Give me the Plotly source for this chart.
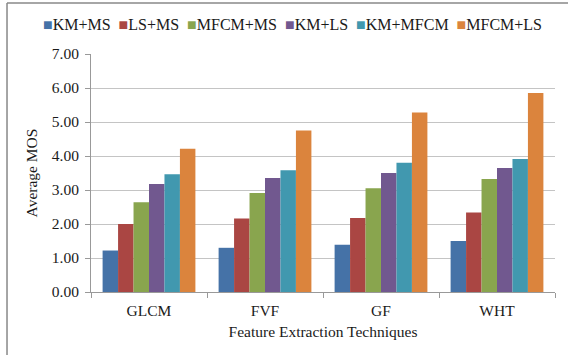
import plotly.graph_objects as go

categories = ["GLCM", "FVF", "GF", "WHT"]
series_names = ["KM+MS", "LS+MS", "MFCM+MS", "KM+LS", "KM+MFCM", "MFCM+LS"]
km_ms = [1.22, 1.30, 1.39, 1.50]
ls_ms = [2.00, 2.16, 2.18, 2.34]
mfcm_ms = [2.64, 2.91, 3.05, 3.32]
km_ls = [3.18, 3.35, 3.50, 3.65]
km_mfcm = [3.46, 3.58, 3.80, 3.91]
mfcm_ls = [4.21, 4.75, 5.28, 5.85]
y_ticks = [0, 1, 2, 3, 4, 5, 6, 7]

series_values = [km_ms, ls_ms, mfcm_ms, km_ls, km_mfcm, mfcm_ls]
colors = ["#4572A7", "#AA4643", "#89A54E", "#71588F", "#4198AF", "#DB843D"]

fig = go.Figure()
for name, vals, c in zip(series_names, series_values, colors):
    fig.add_trace(go.Bar(x=categories, y=vals, name=name, showlegend=False,
                         marker=dict(color=c, line=dict(width=0))))

font = "Liberation Serif, Times New Roman, serif"
legend_text = "\u00a0\u00a0".join(
    f"<span style='color:{c}'>\u25a0</span>{n}" for n, c in zip(series_names, colors)
)

fig.update_layout(
    width=568, height=355,
    margin=dict(l=91, r=13, t=54, b=63),
    paper_bgcolor="white", plot_bgcolor="white",
    barmode="group", bargap=0.2, bargroupgap=0,
    font=dict(family=font, size=15.5, color="#1a1a1a"),
    showlegend=False,
    xaxis=dict(showline=True, linecolor="#999", linewidth=1, ticks="outside", tickson="boundaries",
               tickcolor="#999", ticklen=5, showgrid=False, ticklabelstandoff=4, automargin=False,
               title=dict(text="Feature Extraction Techniques", standoff=8, font=dict(size=15.5))),
    yaxis=dict(range=[0, 7], tickvals=y_ticks, tickformat=".2f", showline=True, linecolor="#999",
               linewidth=1, ticks="outside", tickcolor="#999", ticklen=5, showgrid=True,
               gridcolor="#c4c4c4", gridwidth=1, zeroline=False, ticklabelstandoff=3, automargin=False,
               title=dict(text="Average MOS", standoff=10, font=dict(size=15.5))),
    annotations=[
        dict(text=legend_text, xref="paper", yref="paper", x=0.435, y=1.122,
             xanchor="center", yanchor="middle", showarrow=False, font=dict(size=16))
    ],
    shapes=[
        dict(type="line", xref="paper", yref="paper", x0=-0.181, x1=1.2, y0=1.214, y1=1.214,
             line=dict(color="#888", width=1.5)),
        dict(type="line", xref="paper", yref="paper", x0=-0.181, x1=-0.181, y0=-0.5, y1=1.214,
             line=dict(color="#888", width=1.5)),
    ],
)
fig.write_html("out.html", config={"displayModeBar": False},
               post_script="document.body.style.margin='0';")
